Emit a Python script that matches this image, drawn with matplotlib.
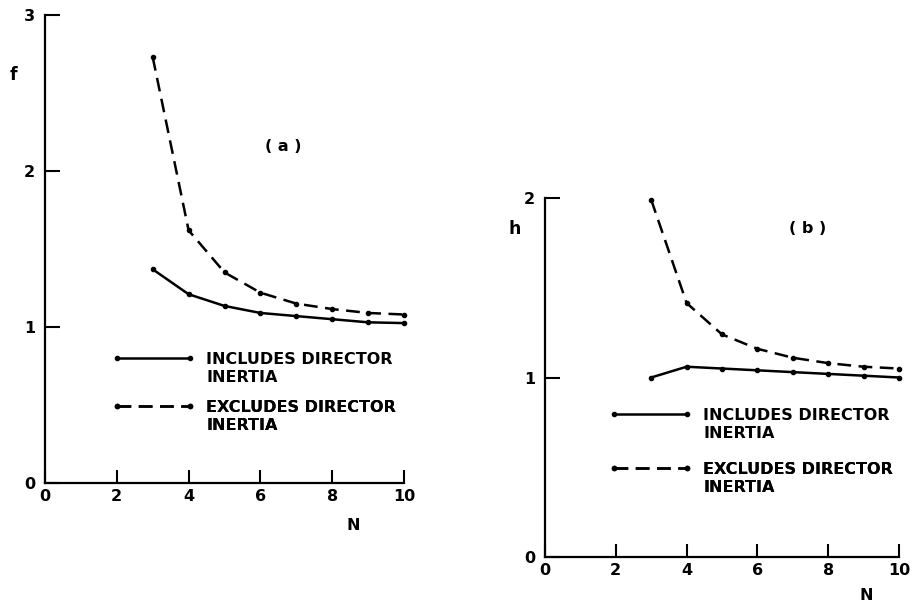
import matplotlib
matplotlib.use("Agg")
import matplotlib.pyplot as plt
from matplotlib.lines import Line2D

# ---- data ----
N = [3, 4, 5, 6, 7, 8, 9, 10]
f_includes = [1.37, 1.21, 1.135, 1.09, 1.07, 1.05, 1.03, 1.025]
f_excludes = [2.73, 1.62, 1.35, 1.22, 1.15, 1.115, 1.09, 1.08]
h_includes = [1.00, 1.06, 1.05, 1.04, 1.03, 1.02, 1.01, 1.00]
h_excludes = [1.99, 1.415, 1.24, 1.16, 1.11, 1.08, 1.06, 1.05]
x_ticks = [0, 2, 4, 6, 8, 10]
f_ticks = [0, 1, 2, 3]
h_ticks = [0, 1, 2]
label_inc = ["INCLUDES DIRECTOR", "INERTIA"]
label_exc = ["EXCLUDES DIRECTOR", "INERTIA"]

plt.rcParams['font.family'] = ['DejaVu Sans']
FS = 11.5
W = 'bold'

fig = plt.figure(figsize=(9.13, 6.05), dpi=100)
ax_a = fig.add_axes([45/913, 1-483/605, 359/913, 468/605])
ax_b = fig.add_axes([545/913, 1-557/605, 354/913, 359/605])

LW = 1.8
DASH = (5.5, 3)


def style(ax, yticks, ymax):
    ax.set_xlim(0, 10)
    ax.set_ylim(0, ymax)
    for s in ['top', 'right']:
        ax.spines[s].set_visible(False)
    for s in ['left', 'bottom']:
        ax.spines[s].set_linewidth(1.6)
    ax.set_xticks(x_ticks)
    ax.set_yticks(yticks)
    ax.tick_params(axis='y', direction='in', length=11, width=1.5, pad=7,
                   labelsize=FS)
    ax.tick_params(axis='x', direction='in', length=9.5, width=1.5, pad=4,
                   labelsize=FS)
    for t in ax.get_xticklabels() + ax.get_yticklabels():
        t.set_fontweight(W)


def legend(ax, handle, labels, x, y):
    blank = Line2D([], [], linestyle='none')
    lg = ax.legend([handle, blank], labels, loc='upper left',
                   bbox_to_anchor=(x, y), bbox_transform=ax.transAxes,
                   frameon=False, borderpad=0, borderaxespad=0,
                   handlelength=5.2, handletextpad=0.7, labelspacing=0.2,
                   numpoints=2, prop={'size': FS, 'weight': W})
    ax.add_artist(lg)


def draw(ax, inc, exc, yticks, ymax, ylab, ylab_xy, xlab_xy, panel, panel_xy,
         leg1, leg2):
    style(ax, yticks, ymax)
    l1, = ax.plot(N, inc, color='black', lw=LW, marker='o', markersize=3,
                  clip_on=False)
    l2, = ax.plot(N, exc, color='black', lw=LW, ls=(0, DASH), marker='o',
                  markersize=3, clip_on=False)
    ax.set_ylabel(ylab, rotation=0, fontsize=FS + 1, fontweight=W,
                  ha='center', va='center')
    ax.yaxis.set_label_coords(*ylab_xy)
    ax.set_xlabel('N', fontsize=FS, fontweight=W, ha='center', va='center')
    ax.xaxis.set_label_coords(*xlab_xy)
    ax.text(panel_xy[0], panel_xy[1], panel, transform=ax.transAxes,
            fontsize=FS, fontweight=W, ha='center', va='center')
    legend(ax, l1, label_inc, *leg1)
    legend(ax, l2, label_exc, *leg2)


draw(ax_a, f_includes, f_excludes, f_ticks, 3, 'f', (-0.089, 0.872),
     (0.858, -0.09), '( a )', (0.663, 0.718), (0.187, 0.280), (0.187, 0.178))
draw(ax_b, h_includes, h_excludes, h_ticks, 2, 'h', (-0.085, 0.914),
     (0.907, -0.106), '( b )', (0.743, 0.914), (0.181, 0.416), (0.181, 0.266))

fig.savefig('out.png', dpi=100)
